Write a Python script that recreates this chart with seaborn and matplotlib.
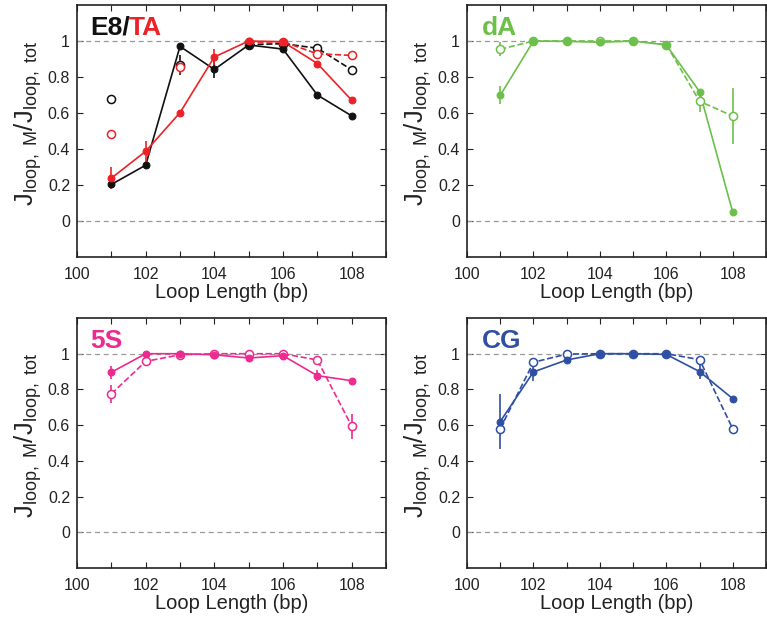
import numpy as np
import pandas as pd
import matplotlib
matplotlib.use("Agg")
import matplotlib.pyplot as plt
import seaborn as sns

sns.set_style("white")
plt.rcParams['font.family'] = ['Liberation Sans', 'DejaVu Sans']
plt.rcParams['mathtext.fontset'] = 'custom'
plt.rcParams['mathtext.rm'] = 'Liberation Sans'
plt.rcParams['mathtext.it'] = 'Liberation Sans'

loop_len = [101, 102, 103, 104, 105, 106, 107, 108]
nan = np.nan

# E8 (black)
e8_filled = [0.203, 0.31, 0.97, 0.842, 0.978, 0.955, 0.70, 0.584]
e8_filled_err = [0.02, 0.0, 0.0, 0.05, 0.0, 0.0, 0.0, 0.0]
e8_open = [0.68, nan, 0.865, nan, 0.98, 0.985, 0.96, 0.84]
e8_open_err = [0.0, 0.0, 0.055, 0.0, 0.0, 0.0, 0.0, 0.02]
# TA (red)
ta_filled = [0.238, 0.387, 0.602, 0.911, 1.0, 0.996, 0.875, 0.671]
ta_filled_err = [0.06, 0.06, 0.0, 0.045, 0.0, 0.0, 0.0, 0.0]
ta_open = [0.483, nan, 0.855, nan, 0.993, 0.996, 0.929, 0.92]
ta_open_err = [0.0, 0.0, 0.04, 0.0, 0.0, 0.0, 0.02, 0.0]
# dA (green)
da_filled = [0.698, 1.0, 0.998, 0.993, 1.0, 0.978, 0.719, 0.048]
da_filled_err = [0.05, 0.0, 0.0, 0.0, 0.0, 0.0, 0.0, 0.0]
da_open = [0.954, 1.0, 1.0, 1.0, 1.0, 0.98, 0.665, 0.583]
da_open_err = [0.04, 0.0, 0.0, 0.0, 0.0, 0.0, 0.06, 0.155]
# 5S (pink)
s5_filled = [0.896, 1.0, 1.0, 0.994, 0.976, 0.989, 0.877, 0.849]
s5_filled_err = [0.035, 0.0, 0.0, 0.0, 0.0, 0.0, 0.03, 0.0]
s5_open = [0.775, 0.957, 0.994, 1.0, 1.0, 1.0, 0.965, 0.595]
s5_open_err = [0.05, 0.0, 0.0, 0.0, 0.0, 0.0, 0.0, 0.07]
# CG (blue)
cg_filled = [0.62, 0.898, 0.965, 1.0, 1.0, 0.996, 0.90, 0.748]
cg_filled_err = [0.155, 0.05, 0.0, 0.0, 0.0, 0.0, 0.04, 0.0]
cg_open = [0.58, 0.952, 0.998, 1.0, 1.0, 1.0, 0.967, 0.579]
cg_open_err = [0.0, 0.0, 0.0, 0.0, 0.0, 0.0, 0.0, 0.0]

BLACK = '#111111'
RED = '#ec2227'
GREEN = '#6cc04a'
PINK = '#ec2a8f'
BLUE = '#2f4fa2'

fig = plt.figure(figsize=(7.67, 6.2), dpi=100)
W, H = 767.0, 620.0
def add_ax(l, r, t, b):
    return fig.add_axes([l / W, 1 - b / H, (r - l) / W, (b - t) / H])

axes = [add_ax(77, 386, 5, 257), add_ax(467, 766, 5, 257),
        add_ax(77, 386, 318, 568), add_ax(467, 766, 318, 568)]


def draw_series(ax, y, err, color, filled):
    df = pd.DataFrame({'x': loop_len, 'y': y, 'e': err})
    ls = '-' if filled else '--'
    valid = df['y'].notna().values
    runs = []
    cur = []
    for i, v in enumerate(valid):
        if v:
            cur.append(i)
        else:
            if cur:
                runs.append(cur)
            cur = []
    if cur:
        runs.append(cur)
    for run in runs:
        sub = df.iloc[run]
        if len(sub) > 1:
            sns.lineplot(data=sub, x='x', y='y', ax=ax, color=color,
                         linestyle=ls, linewidth=1.2, sort=False,
                         estimator=None, legend=False, zorder=3)
    sub = df[df['e'] > 0]
    if len(sub):
        ax.errorbar(sub['x'], sub['y'], yerr=sub['e'], fmt='none',
                    ecolor=color, elinewidth=1.2, capsize=0, zorder=3)
    dv = df[valid]
    if filled:
        sns.scatterplot(data=dv, x='x', y='y', ax=ax, color=color, s=24,
                        edgecolor=color, linewidth=0.8, legend=False, zorder=4)
    else:
        sns.scatterplot(data=dv, x='x', y='y', ax=ax, facecolor='white',
                        s=34, edgecolor=color, linewidth=1.1, legend=False,
                        zorder=4)


series = [
    [(e8_open, e8_open_err, BLACK, False), (ta_open, ta_open_err, RED, False),
     (e8_filled, e8_filled_err, BLACK, True), (ta_filled, ta_filled_err, RED, True)],
    [(da_open, da_open_err, GREEN, False), (da_filled, da_filled_err, GREEN, True)],
    [(s5_open, s5_open_err, PINK, False), (s5_filled, s5_filled_err, PINK, True)],
    [(cg_open, cg_open_err, BLUE, False), (cg_filled, cg_filled_err, BLUE, True)],
]

ylab = r'$\mathregular{J_{loop,\ M}/J_{loop,\ tot}}$'
label_x = [-0.107, -0.11, -0.107, -0.11]
for ax, ser, lx in zip(axes, series, label_x):
    for y, e, c, f in ser:
        draw_series(ax, y, e, c, f)
    ax.axhline(1, color='#999999', linestyle=(0, (4, 3)), linewidth=0.9, zorder=1)
    ax.axhline(0, color='#999999', linestyle=(0, (4, 3)), linewidth=0.9, zorder=1)
    ax.set_xlim(100, 109)
    ax.set_ylim(-0.2, 1.2)
    ax.set_xticks([100, 102, 104, 106, 108])
    ax.set_xticks(np.arange(100, 110, 1), minor=True)
    ax.set_yticks([0, 0.2, 0.4, 0.6, 0.8, 1])
    ax.set_yticklabels(['0', '0.2', '0.4', '0.6', '0.8', '1'])
    ax.tick_params(which='both', direction='in', top=True, right=True,
                   bottom=True, left=True, labelsize=11.5, colors='#222222',
                   length=4, width=0.8)
    ax.tick_params(axis='x', which='both', pad=7)
    ax.tick_params(axis='y', which='both', pad=5)
    for sp in ax.spines.values():
        sp.set_color('#222222')
        sp.set_linewidth(1.2)
    ax.set_xlabel('Loop Length (bp)', fontsize=14.5, color='#222222', labelpad=1)
    ax.set_ylabel(ylab, fontsize=18.5, color='#222222')
    ax.yaxis.set_label_coords(lx, 0.53)

# panel titles
fs = 19
tx, ty = 0.042, 0.958
t1 = axes[0].text(tx, ty, 'E8/', transform=axes[0].transAxes, fontsize=fs,
                  fontweight='bold', color=BLACK, va='top', ha='left')
fig.canvas.draw()
bb = t1.get_window_extent(renderer=fig.canvas.get_renderer())
xr = axes[0].transAxes.inverted().transform((bb.x1, bb.y1))[0]
axes[0].text(xr - 0.004, ty, 'TA', transform=axes[0].transAxes, fontsize=fs,
             fontweight='bold', color=RED, va='top', ha='left')
axes[1].text(tx + 0.008, ty, 'dA', transform=axes[1].transAxes, fontsize=fs,
             fontweight='bold', color=GREEN, va='top', ha='left')
axes[2].text(tx, ty, '5S', transform=axes[2].transAxes, fontsize=fs,
             fontweight='bold', color=PINK, va='top', ha='left')
axes[3].text(tx + 0.008, ty, 'CG', transform=axes[3].transAxes, fontsize=fs,
             fontweight='bold', color=BLUE, va='top', ha='left')

fig.savefig('out.png', dpi=100)
